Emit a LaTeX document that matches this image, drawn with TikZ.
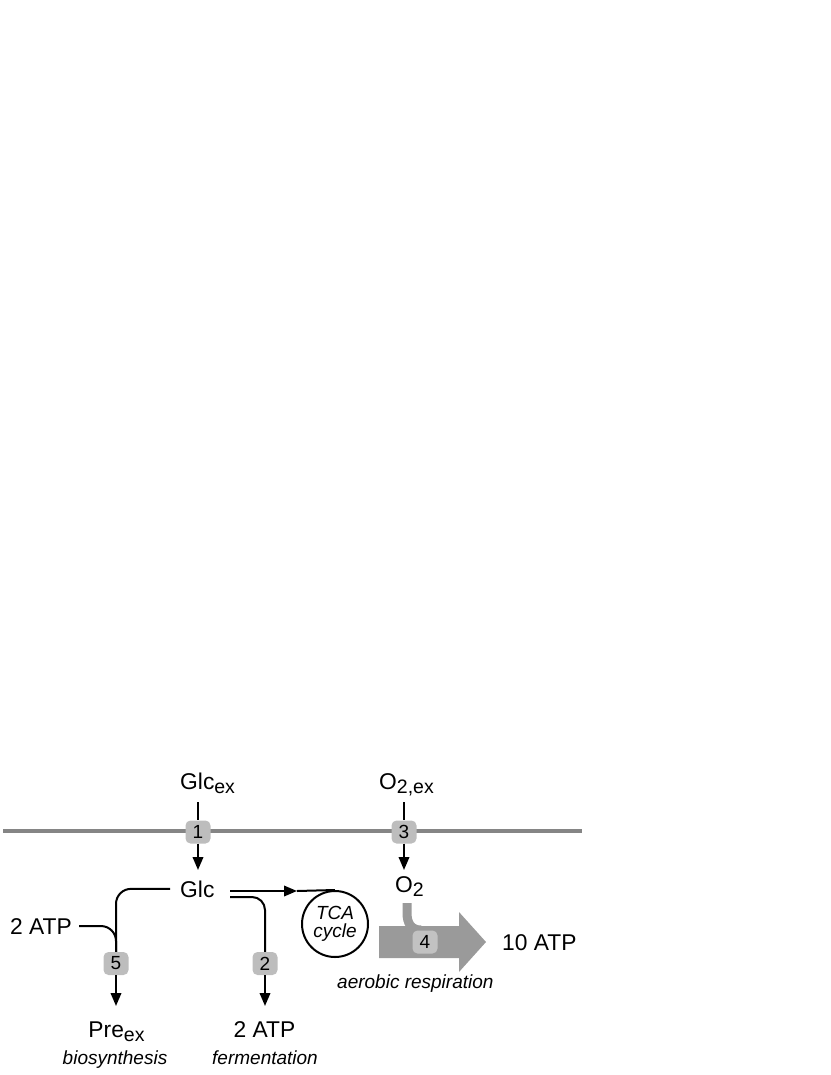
\documentclass[tikz,border=0pt]{standalone}
\usepackage{fontspec}
\setmainfont{Liberation Sans}
\usetikzlibrary{arrows.meta,calc}
\definecolor{memgray}{HTML}{858585}
\definecolor{badgegray}{HTML}{BDBDBD}
\definecolor{bigarrow}{HTML}{9A9A9A}
\definecolor{badgefour}{HTML}{C2C2C2}
\newcommand\subtx[1]{\raisebox{-4pt}{\fontsize{19.5}{19.5}\selectfont #1}}
\tikzset{
  lbl/.style={inner sep=0pt, font=\fontsize{22.8}{27}\selectfont},
  itl/.style={inner sep=0pt, font=\fontsize{19}{19}\selectfont\itshape},
  badge/.style={fill=badgegray, rounded corners=5pt, minimum width=25pt, minimum height=23pt, inner sep=0pt, font=\fontsize{19}{19}\selectfont},
  conn/.style={line width=2pt, black},
  arr/.style={conn, -{Triangle[length=13pt,width=10.5pt]}},
  membrane/.style={line width=4.5pt, memgray},
}
\begin{document}
\begin{tikzpicture}[x=1pt,y=-1pt]
\useasboundingbox (0,0) rectangle (830,1075);
% membrane
\coordinate (mL) at (3,831);
\coordinate (mR) at (582,831);
\draw[membrane] (mL) -- (mR);
% labels
\node[lbl, anchor=base west] (glcex) at (180,789) {Glc\subtx{ex}};
\node[lbl, anchor=base west] (o2ex) at (379,789) {O\subtx{2,ex}};
\node[lbl, anchor=base west] (glc) at (180,897) {Glc};
\node[lbl, anchor=base west] (o2) at (395,892) {O\subtx{2}};
\node[lbl, anchor=base west] (atpL) at (10,934) {2 ATP};
\node[lbl, anchor=base] (pre) at (116.5,1037) {Pre\subtx{ex}};
\node[lbl, anchor=base] (atpF) at (264.5,1037) {2 ATP};
\node[itl, anchor=base] (bio) at (115,1064) {biosynthesis};
\node[itl, anchor=base] (ferm) at (265,1064) {fermentation};
\node[lbl, anchor=base west] (atpR) at (502,950) {10 ATP};
\node[itl, anchor=base west] (aer) at (337,988) {aerobic respiration};
% badges
\node[badge] (b1) at (198,832) {1};
\node[badge] (b3) at (404,832) {3};
\node[badge] (b5) at (116,963.5) {5};
\node[badge] (b2) at (265,963.5) {2};
% TCA
\node[draw, circle, line width=2pt, minimum size=66pt, inner sep=0pt, align=center,
      font=\fontsize{19}{19}\selectfont\itshape] (tca) at (335,924) {TCA\\[-1pt]cycle};
% transport 1 and 3
\coordinate (s1) at (198,802);
\coordinate (e1) at (198,870);
\coordinate (s3) at (404,802);
\coordinate (e3) at (404,870);
\draw[conn] (s1) -- (b1.north);
\draw[arr] (b1.south) -- (e1);
\draw[conn] (s3) -- (b3.north);
\draw[arr] (b3.south) -- (e3);
% biosynthesis branch
\coordinate (e5) at (116,1006);
\draw[conn, rounded corners=15pt, shorten <=10pt] (glc.west) -| (b5.north);
\draw[conn, rounded corners=15pt, shorten <=7pt] (atpL.east) -| (b5.north);
\draw[arr] (b5.south) -- (e5);
% fermentation and TCA branch
\coordinate (g1) at (230,891);
\coordinate (g2) at (230,897);
\coordinate (mid) at (297,891);
\coordinate (e2) at (265,1006);
\draw[arr] (g1) -- (mid);
\draw[conn] (mid) -- (tca.north);
\draw[conn, rounded corners=13pt] (g2) -| (b2.north);
\draw[arr] (b2.south) -- (e2);
% aerobic respiration arrow
\fill[bigarrow] (379,926) -- (459,926) -- (459,912) -- (486,942) -- (459,972) -- (459,958) -- (379,958) -- cycle;
\coordinate (o2s) at (407,903);
\coordinate (o2e) at (421,930);
\draw[bigarrow, line width=9pt] (o2s) -- (407,913) .. controls (407,923) and (411,930) .. (o2e);
\node[badge, fill=badgefour] (b4) at (425,942) {4};
\end{tikzpicture}
\end{document}
